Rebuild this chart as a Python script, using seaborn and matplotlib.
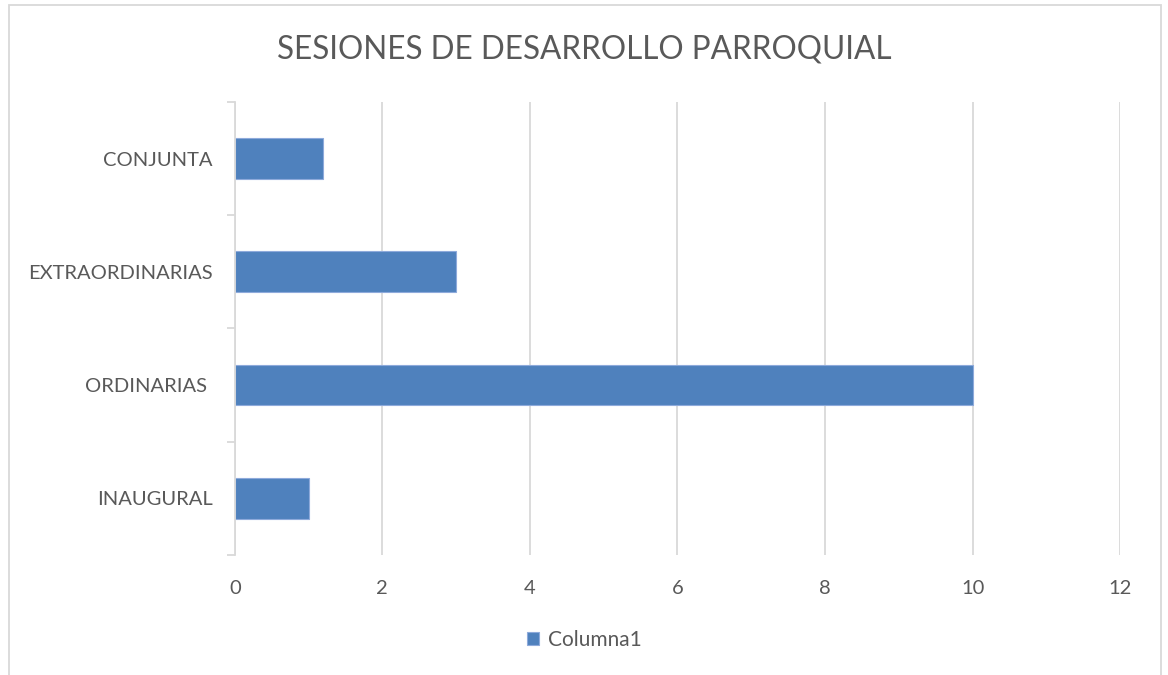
import matplotlib
matplotlib.use("Agg")
import matplotlib.pyplot as plt
import seaborn as sns
import pandas as pd
from matplotlib.patches import Rectangle

categories = ["CONJUNTA", "EXTRAORDINARIAS", "ORDINARIAS ", "INAUGURAL"]
values = [1.2, 3, 10, 1]
series_name = "Columna1"
x_ticks = [0, 2, 4, 6, 8, 10, 12]

sns.set_style("white")
plt.rcParams['font.family'] = ['Lato', 'DejaVu Sans']

text_col = "#595959"
grid_col = "#d9d9d9"
bar_col = "#4f81bd"

df = pd.DataFrame({"cat": categories, "val": values, "serie": series_name})

fig = plt.figure(figsize=(11.68, 6.75), dpi=100)
ax = fig.add_axes([0.201, 0.178, 0.758, 0.671])

sns.barplot(data=df, x="val", y="cat", hue="serie", palette=[bar_col],
            saturation=1, width=0.36, edgecolor="#8eaadb", linewidth=0.8, ax=ax)

ax.set_xlim(0, 12)
ax.set_ylim(3.5, -0.5)
ax.set_xticks(x_ticks)
ax.set_xticklabels([str(t) for t in x_ticks])
ax.grid(axis="x", color=grid_col, linewidth=1.3)
ax.set_axisbelow(True)
ax.set_xlabel("")
ax.set_ylabel("")

for s in ["top", "right", "bottom"]:
    ax.spines[s].set_visible(False)
ax.spines["left"].set_color(grid_col)
ax.spines["left"].set_linewidth(1.3)

ax.set_yticks([-0.5, 0.5, 1.5, 2.5, 3.5], minor=True)
ax.tick_params(axis="y", which="minor", left=True, length=6, color=grid_col, width=1.3)
ax.tick_params(axis="y", which="major", length=0, pad=16, labelsize=14.5, labelcolor=text_col)
ax.tick_params(axis="x", length=0, pad=18, labelsize=14.5, labelcolor=text_col)

fig.text(0.5, 0.926, "SESIONES DE DESARROLLO PARROQUIAL", ha="center", va="center",
         fontsize=22.7, color=text_col)

ax.legend(loc="center", bbox_to_anchor=(0.5, 0.052), bbox_transform=fig.transFigure,
          frameon=False, fontsize=15, labelcolor=text_col, handlelength=0.6,
          handleheight=0.6, handletextpad=0.4)

fig.patches.append(Rectangle((9 / 1168, -0.05), 1152 / 1168, 1.05 - 5 / 675,
                             transform=fig.transFigure, fill=False,
                             edgecolor=grid_col, linewidth=1.3))

fig.savefig("out.png", dpi=100, facecolor="white")
